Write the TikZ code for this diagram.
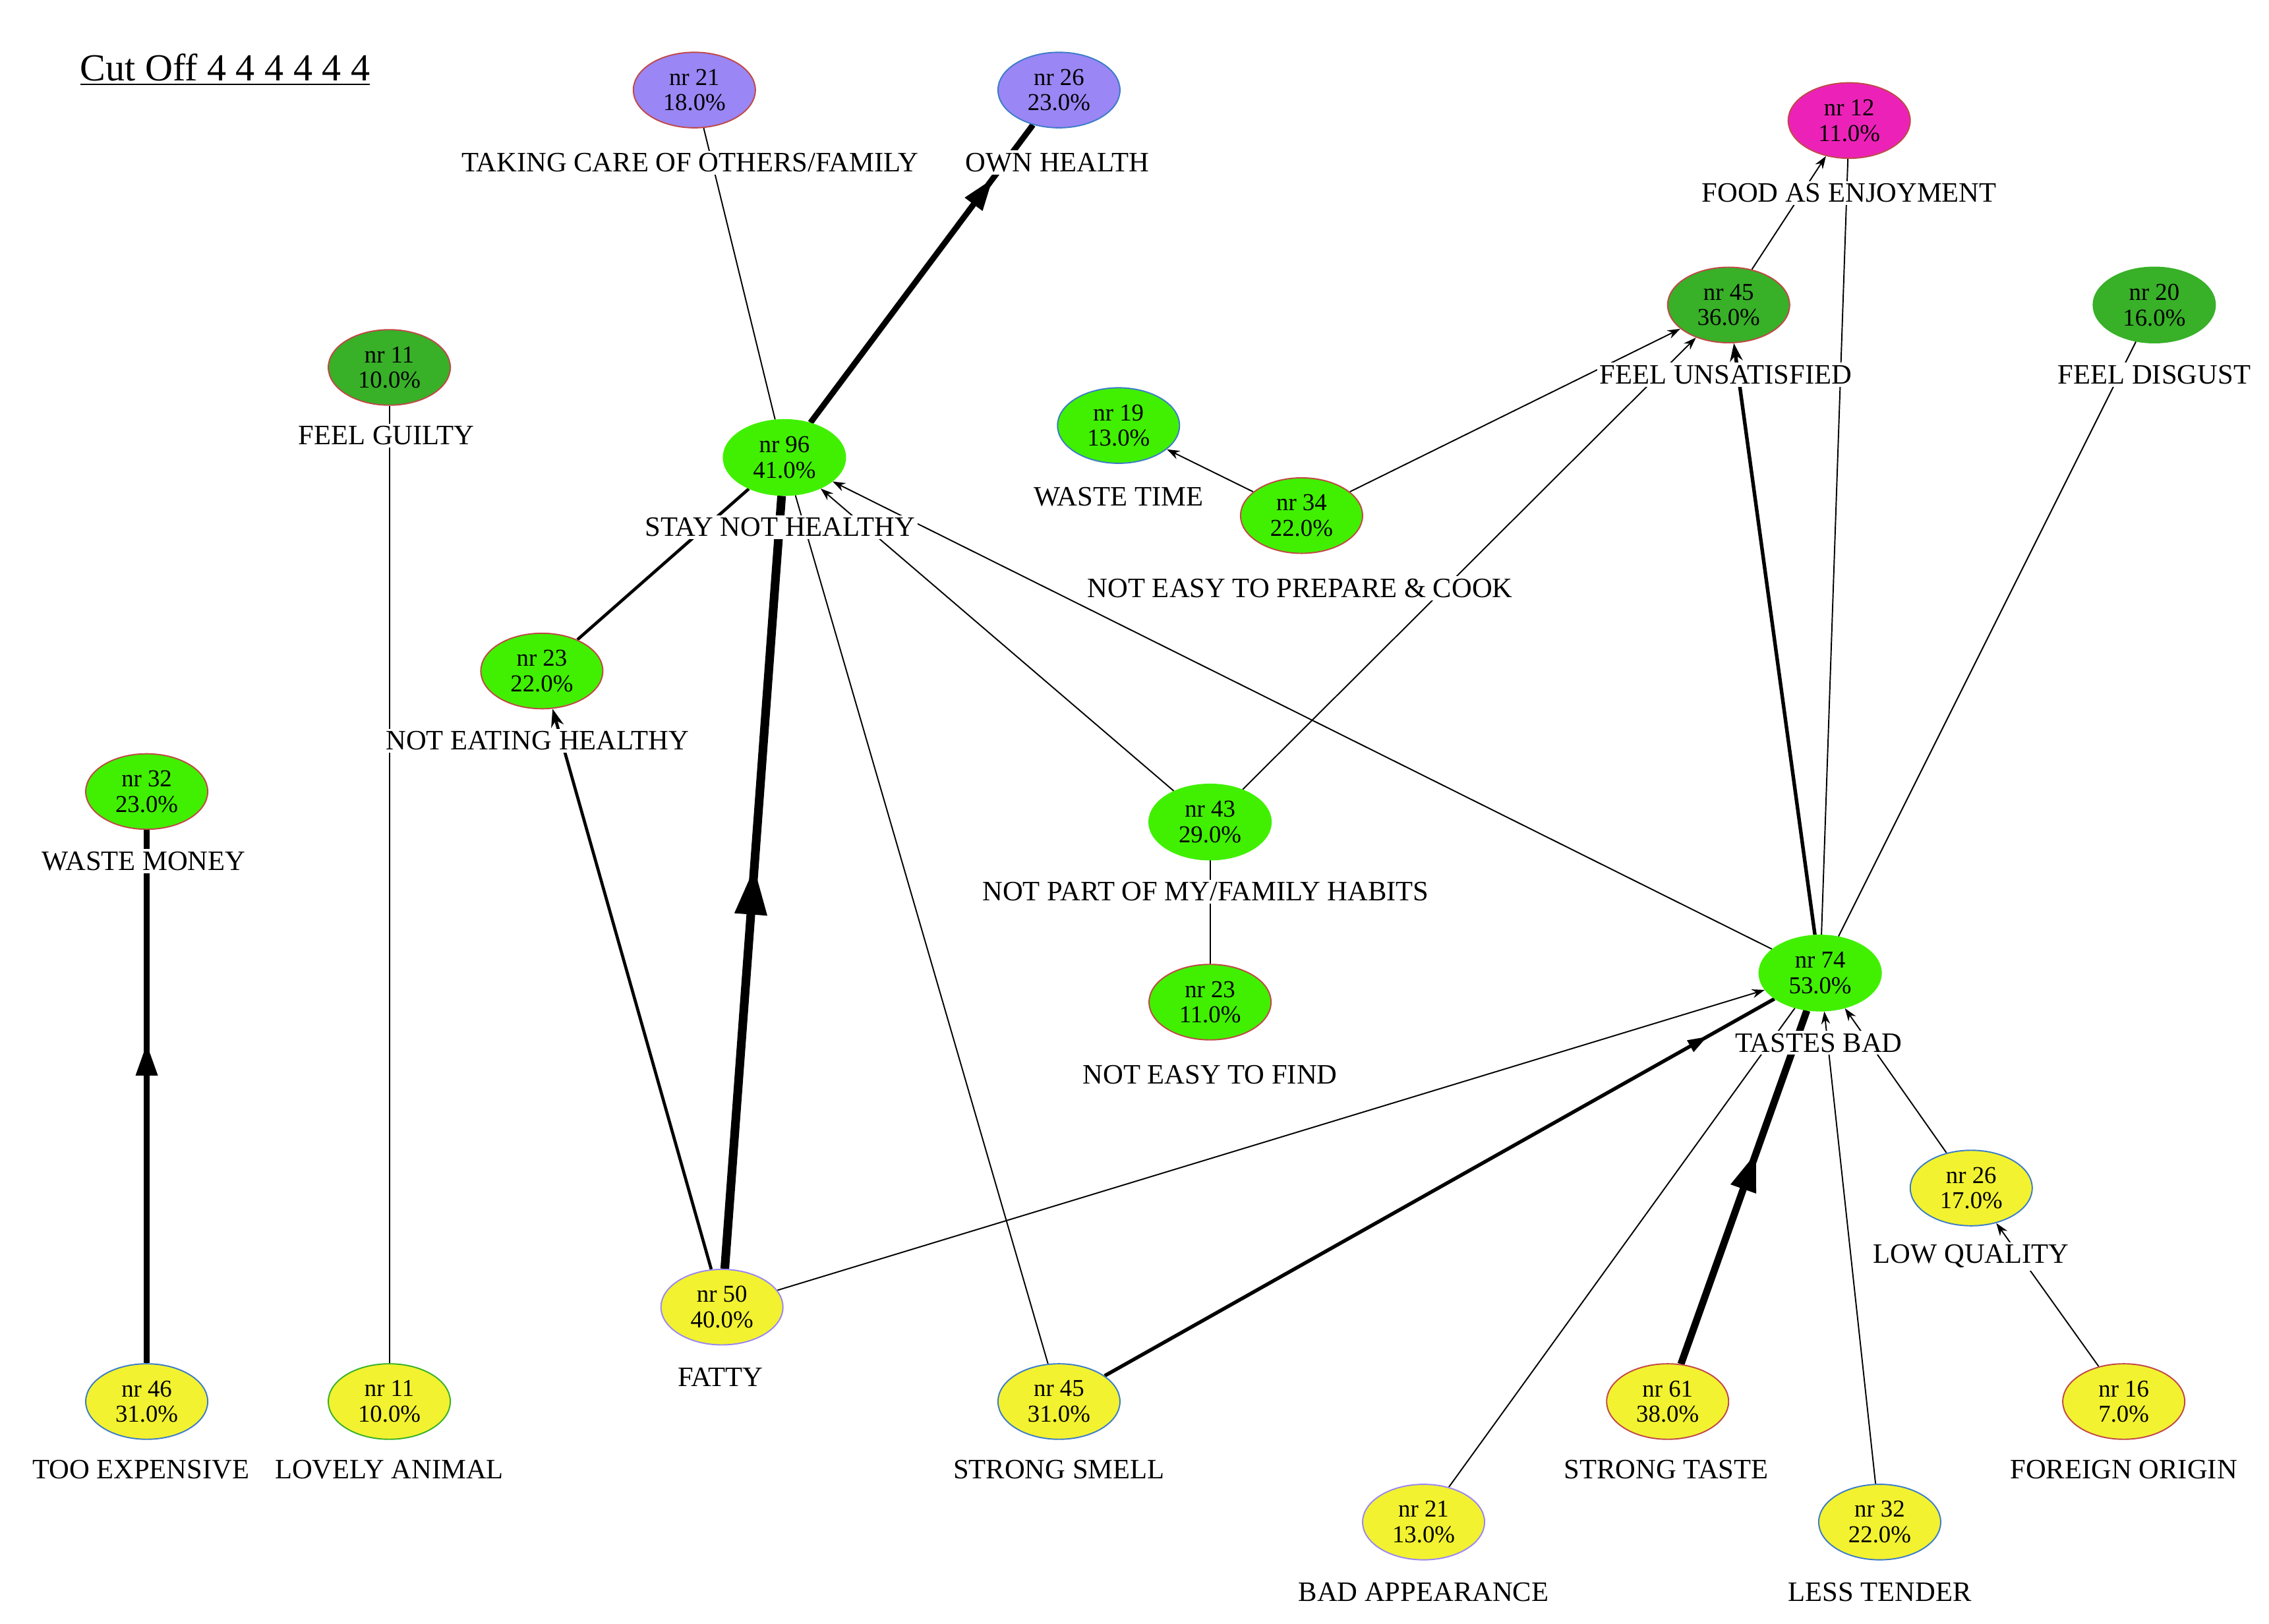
\documentclass[tikz,border=0pt]{standalone}
\usepackage{fontspec}
\setmainfont{Liberation Serif}
\usetikzlibrary{arrows.meta,decorations.markings,backgrounds,shapes.geometric}

\definecolor{brightgreen}{HTML}{40F000}
\definecolor{darkgreen}{HTML}{38B028}
\definecolor{lavender}{HTML}{9A86F4}
\definecolor{magenta}{HTML}{EC22B8}
\definecolor{yellowish}{HTML}{F2F230}
\definecolor{redborder}{HTML}{C04848}
\definecolor{blueborder}{HTML}{3C7CC8}

\tikzset{
  concept/.style={ellipse, minimum width=1.68cm, minimum height=1.04cm, inner sep=0pt,
    align=center, font=\fontsize{9.5}{10}\selectfont, line width=0.5pt},
  value/.style={concept, fill=lavender},
  feel/.style={concept, fill=darkgreen},
  cons/.style={concept, fill=brightgreen},
  attr/.style={concept, fill=yellowish},
  caption/.style={fill=white, inner sep=1pt, font=\fontsize{11}{12}\selectfont},
  link/.style={line width=0.5pt},
  linkarr/.style={link, -{Stealth[length=5pt,width=3.5pt]}},
  midarrow/.style 2 args={line width=#1, postaction={decorate}, decoration={markings,
    mark=at position #2 with {\arrow{Triangle[length=#1*5.5,width=#1*3.5]}}}},
}

\begin{document}
\begin{tikzpicture}[x=0.02cm, y=-0.02cm]
\useasboundingbox (0,0) rectangle (1562,1118);

\node[font=\fontsize{15}{16}\selectfont] (title) at (155,48) {\underline{Cut Off 4 4 4 4 4 4}};

% values
\node[value, draw=redborder]   (n21) at (478,62)   {nr 21\\18.0\%};
\node[value, draw=blueborder]  (n26) at (729,62)   {nr 26\\23.0\%};
\node[concept, fill=magenta, draw=redborder] (n12) at (1273,83) {nr 12\\11.0\%};
% feelings
\node[feel, draw=redborder]    (n11g) at (268,253) {nr 11\\10.0\%};
\node[feel, draw=redborder]    (n45) at (1190,210) {nr 45\\36.0\%};
\node[feel, draw=darkgreen]    (n20) at (1483,210) {nr 20\\16.0\%};
% consequences
\node[cons, draw=blueborder]   (n19) at (770,293)  {nr 19\\13.0\%};
\node[cons, draw=brightgreen]  (n96) at (540,315)  {nr 96\\41.0\%};
\node[cons, draw=redborder]    (n34) at (896,355)  {nr 34\\22.0\%};
\node[cons, draw=redborder]    (n23a) at (373,462) {nr 23\\22.0\%};
\node[cons, draw=redborder]    (n32a) at (101,545) {nr 32\\23.0\%};
\node[cons, draw=brightgreen]  (n43) at (833,566)  {nr 43\\29.0\%};
\node[cons, draw=redborder]    (n23b) at (833,690) {nr 23\\11.0\%};
\node[cons, draw=brightgreen]  (n74) at (1253,670) {nr 74\\53.0\%};
% attributes
\node[attr, draw=blueborder]   (n26b) at (1357,818) {nr 26\\17.0\%};
\node[attr, draw=lavender]     (n50) at (497,900)  {nr 50\\40.0\%};
\node[attr, draw=blueborder]   (n46) at (101,965)  {nr 46\\31.0\%};
\node[attr, draw=darkgreen]    (n11y) at (268,965) {nr 11\\10.0\%};
\node[attr, draw=blueborder]   (n45y) at (729,965) {nr 45\\31.0\%};
\node[attr, draw=redborder]    (n61) at (1148,965) {nr 61\\38.0\%};
\node[attr, draw=redborder]    (n16) at (1462,965) {nr 16\\7.0\%};
\node[attr, draw=lavender]     (n21y) at (980,1048) {nr 21\\13.0\%};
\node[attr, draw=blueborder]   (n32y) at (1294,1048) {nr 32\\22.0\%};

\begin{pgfonlayer}{background}
% links
\draw[link] (n96) -- (n21);
\draw[midarrow={2.3pt}{0.82}] (n96) -- (n26);
\draw[link, line width=1.2pt] (n23a) -- (n96);
\draw[midarrow={3.4pt}{0.52}] (n50) -- (n96);
\draw[line width=1.2pt, -{Stealth[length=7pt,width=5pt]}] (n50) -- (n23a);
\draw[link] (n45y) -- (n96);
\draw[linkarr] (n43) -- (n96);
\draw[linkarr] (n74) -- (n96);
\draw[linkarr] (n34) -- (n19);
\draw[linkarr] (n34) -- (n45);
\draw[linkarr] (n43) -- (n45);
\draw[link] (n23b) -- (n43);
\draw[line width=1.4pt, -{Stealth[length=7pt,width=5pt]}] (n74) -- (n45);
\draw[link] (n74) -- (n12);
\draw[linkarr] (n45) -- (n12);
\draw[link] (n74) -- (n20);
\draw[linkarr] (n50) -- (n74);
\draw[midarrow={1.4pt}{0.9}] (n45y) -- (n74);
\draw[link] (n21y) -- (n74);
\draw[midarrow={2.8pt}{0.6}] (n61) -- (n74);
\draw[linkarr] (n32y) -- (n74);
\draw[linkarr] (n26b) -- (n74);
\draw[linkarr] (n16) -- (n26b);
\draw[midarrow={2.3pt}{0.6}] (n46) -- (n32a);
\draw[link] (n11y) -- (n11g);
\end{pgfonlayer}

% captions
\node[caption] (n21l) at (475,112) {TAKING CARE OF OTHERS/FAMILY};
\node[caption] (n26l) at (728,112) {OWN HEALTH};
\node[caption] (n12l) at (1273,133) {FOOD AS ENJOYMENT};
\node[caption] (n11gl) at (266,300) {FEEL GUILTY};
\node[caption] (n45l) at (1188,258) {FEEL UNSATISFIED};
\node[caption] (n20l) at (1483,258) {FEEL DISGUST};
\node[caption] (n19l) at (770,342) {WASTE TIME};
\node[caption] (n96l) at (537,363) {STAY NOT HEALTHY};
\node[caption] (n34l) at (895,405) {NOT EASY TO PREPARE \& COOK};
\node[caption] (n23al) at (370,510) {NOT EATING HEALTHY};
\node[caption] (n32al) at (99,593) {WASTE MONEY};
\node[caption] (n43l) at (830,614) {NOT PART OF MY/FAMILY HABITS};
\node[caption] (n23bl) at (833,740) {NOT EASY TO FIND};
\node[caption] (n74l) at (1252,718) {TASTES BAD};
\node[caption] (n26bl) at (1357,865) {LOW QUALITY};
\node[caption] (n50l) at (496,948) {FATTY};
\node[caption] (n46l) at (97,1012) {TOO EXPENSIVE};
\node[caption] (n11yl) at (268,1012) {LOVELY ANIMAL};
\node[caption] (n45yl) at (729,1012) {STRONG SMELL};
\node[caption] (n61l) at (1147,1012) {STRONG TASTE};
\node[caption] (n16l) at (1462,1012) {FOREIGN ORIGIN};
\node[caption] (n21yl) at (980,1096) {BAD APPEARANCE};
\node[caption] (n32yl) at (1294,1096) {LESS TENDER};
\end{tikzpicture}
\end{document}
